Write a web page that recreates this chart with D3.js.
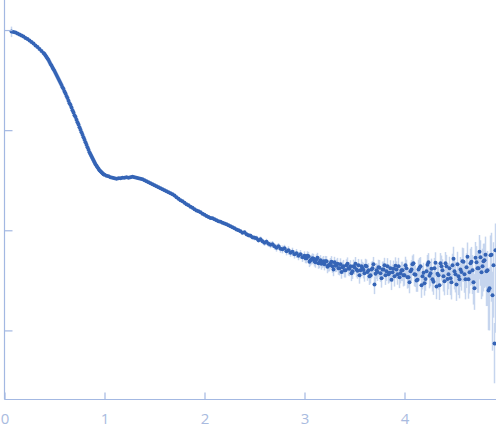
<!DOCTYPE html>
<html>
<head>
<meta charset="utf-8">
<script src="https://cdn.jsdelivr.net/npm/d3@7"></script>
<style>
  html, body { margin: 0; padding: 0; background: #fff; }
  svg { display: block; }
</style>
</head>
<body>
<svg id="chart" width="496" height="437"></svg>
<script>
// scattering vector q (x values)
const q = [
  0.07,0.09,0.11,0.13,0.15,0.17,0.19,0.21,0.23,0.25,0.27,0.29,0.31,0.33,0.35,0.37,0.39,
  0.40,0.41,0.42,0.43,0.44,0.45,0.46,0.47,0.48,0.49,
  0.50,0.51,0.52,0.53,0.54,0.55,0.56,0.57,0.58,0.59,
  0.60,0.61,0.62,0.63,0.64,0.65,0.66,0.67,0.68,0.69,
  0.70,0.71,0.72,0.73,0.74,0.75,0.76,0.77,0.78,0.79,
  0.80,0.81,0.82,0.83,0.84,0.85,0.86,0.87,0.88,0.89,
  0.90,0.91,0.92,0.93,0.94,0.95,0.96,0.97,0.98,0.99,
  1.00,
  1.02,1.04,1.06,1.08,1.10,1.12,1.14,1.16,1.18,1.20,
  1.22,1.24,1.26,1.28,1.30,1.32,1.34,1.36,1.38,1.40,
  1.42,1.44,1.46,1.48,1.50,1.52,1.54,1.56,1.58,1.60,
  1.62,1.64,1.66,1.68,1.70,1.72,1.74,1.76,1.78,1.80,
  1.82,1.84,1.86,1.88,1.90,1.92,1.94,1.96,1.98,2.00,
  2.02,2.04,2.06,2.08,2.10,2.12,2.14,2.16,2.18,2.20,
  2.22,2.24,2.26,2.28,2.30,2.32,2.34,2.36,2.38,2.40,
  2.42,2.44,2.46,2.48,2.50,2.52,2.54,2.56,2.58,2.60,
  2.62,2.64,2.66,2.68,2.70,2.72,2.74,2.76,2.78,2.80,
  2.82,2.84,2.86,2.88,2.90,2.92,2.94,2.96,2.98,3.00,
  3.02,3.04,3.06,3.08,3.10,3.12,3.14,3.16,3.18,3.20,
  3.22,3.24,3.26,3.28,3.30,3.32,3.34,3.36,3.38,3.40,
  3.42,3.44,3.46,3.48,3.50,3.52,3.54,3.56,3.58,3.60,
  3.62,3.64,3.66,3.68,3.70,3.72,3.74,3.76,3.78,3.80,
  3.82,3.84,3.86,3.88,3.90,3.92,3.94,3.96,3.98,4.00,
  4.02,4.04,4.06,4.08,4.10,4.12,4.14,4.16,4.18,4.20,
  4.22,4.24,4.26,4.28,4.30,4.32,4.34,4.36,4.38,4.40,
  4.42,4.44,4.46,4.48,4.50,4.52,4.54,4.56,4.58,4.60,
  4.62,4.64,4.66,4.68,4.70,4.72,4.74,4.76,4.78,4.80,
  4.82,4.84,4.86,4.88,4.90,4.91,
  // interleaved points of the noisy tail
  3.01,3.03,3.05,3.07,3.09,3.11,3.13,3.15,3.17,3.19,
  3.21,3.23,3.25,3.27,3.29,3.31,3.33,3.35,3.37,3.39,
  3.41,3.43,3.45,3.47,3.49,3.51,3.53,3.55,3.57,3.59,
  3.61,3.63,3.65,3.67,3.69,3.71,3.73,3.75,3.77,3.79,
  3.81,3.83,3.85,3.87,3.89,3.91,3.93,3.95,3.97,3.99,
  4.01,4.03,4.05,4.07,4.09,4.11,4.13,4.15,4.17,4.19,
  4.21,4.23,4.25,4.27,4.29,4.31,4.33,4.35,4.37,4.39,
  4.41,4.43,4.45,4.47,4.49,4.51,4.53,4.55,4.57,4.59,
  4.61,4.63,4.65,4.67,4.69,4.71,4.73,4.75,4.77,4.79,
  4.81,4.83,4.85,4.87,4.89
];

// intensity I(q), log scale
const intensity = [
  0.966,0.955,0.944,0.923,0.902,0.881,0.861,0.832,0.813,0.785,0.759,0.733,0.700,0.676,0.646,0.617,0.589,
  0.575,0.556,0.537,0.519,0.501,0.479,0.457,0.442,0.422,0.407,
  0.389,0.372,0.355,0.339,0.324,0.309,0.295,0.282,0.269,0.257,
  0.243,0.232,0.219,0.209,0.197,0.186,0.178,0.168,0.158,0.150,
  0.141,0.135,0.127,0.120,0.114,0.107,0.101,0.0955,0.0902,0.0851,
  0.0803,0.0759,0.0716,0.0676,0.0638,0.0603,0.0575,0.0550,0.0525,0.0501,
  0.0479,0.0457,0.0442,0.0427,0.0412,0.0398,0.0389,0.0380,0.0372,0.0363,
  0.0359,
  0.0351,0.0347,0.0339,0.0335,0.0331,0.0327,0.0331,0.0331,0.0335,0.0335,
  0.0339,0.0335,0.0339,0.0343,0.0339,0.0335,0.0331,0.0327,0.0324,0.0316,
  0.0309,0.0302,0.0295,0.0288,0.0282,0.0275,0.0269,0.0263,0.0257,0.0251,
  0.0245,0.0240,0.0234,0.0229,0.0222,0.0214,0.0207,0.0200,0.0195,0.0188,
  0.0182,0.0178,0.0172,0.0168,0.0162,0.0158,0.0155,0.0151,0.0146,0.0143,
  0.0139,0.0136,0.0133,0.0132,0.0129,0.0126,0.0123,0.0122,0.0119,0.0117,
  0.0115,0.0112,0.0110,0.0107,0.0105,0.0102,0.0100,0.00977,0.00944,0.00955,
  0.00912,0.00891,0.00881,0.00851,0.00841,0.00832,0.00794,0.00813,0.00776,0.00750,
  0.00767,0.00733,0.00716,0.00724,0.00692,0.00668,0.00692,0.00653,0.00646,0.00661,
  0.00617,0.00631,0.00596,0.00610,0.00575,0.00589,0.00556,0.00575,0.00537,0.00556,
  0.00525,0.00550,0.00501,0.00525,0.00490,0.00513,0.00468,0.00501,0.00479,0.00457,
  0.00490,0.00447,0.00468,0.00437,0.00479,0.00447,0.00417,0.00457,0.00427,0.00398,
  0.00447,0.00417,0.00437,0.00389,0.00427,0.00407,0.00447,0.00398,0.00417,0.00372,
  0.00437,0.00398,0.00355,0.00417,0.00288,0.00398,0.00427,0.00372,0.00407,0.00447,
  0.00389,0.00363,0.00417,0.00380,0.00347,0.00407,0.00437,0.00372,0.00398,0.00355,
  0.00417,0.00339,0.00389,0.00457,0.00363,0.00316,0.00407,0.00437,0.00347,0.00295,
  0.00389,0.00479,0.00372,0.00324,0.00417,0.00275,0.00355,0.00468,0.00398,0.00309,
  0.00437,0.00363,0.00331,0.00447,0.00389,0.00288,0.00347,0.00407,0.00490,0.00363,
  0.00427,0.00324,0.00468,0.00398,0.00263,0.00479,0.00417,0.00537,0.00437,0.00501,
  0.00389,0.00251,0.00562,0.00224,0.000741,0.00631,
  // interleaved points of the noisy tail
  0.00525,0.00556,0.00484,0.00513,0.00519,0.00479,0.00531,0.00479,0.00462,0.00490,
  0.00490,0.00432,0.00447,0.00484,0.00407,0.00442,0.00462,0.00417,0.00384,0.00437,
  0.00398,0.00462,0.00412,0.00372,0.00437,0.00462,0.00394,0.00355,0.00437,0.00402,
  0.00442,0.00384,0.00347,0.00407,0.00457,0.00368,0.00384,0.00422,0.00331,0.00407,
  0.00355,0.00437,0.00376,0.00320,0.00412,0.00442,0.00363,0.00339,0.00398,0.00355,
  0.00447,0.00339,0.00302,0.00407,0.00468,0.00359,0.00320,0.00422,0.00282,0.00376,
  0.00327,0.00452,0.00351,0.00412,0.00306,0.00473,0.00368,0.00282,0.00437,0.00347,
  0.00468,0.00327,0.00417,0.00302,0.00519,0.00363,0.00457,0.00324,0.00384,0.00484,
  0.00324,0.00543,0.00380,0.00484,0.00302,0.00531,0.00417,0.00610,0.00380,0.00490,
  0.00569,0.00398,0.00263,0.00569,0.00447
];

// relative uncertainty sigma/I for each point
const relErr = [
  0.12,0.008,0.008,0.008,0.008,0.008,0.008,0.008,0.008,0.008,0.008,0.008,0.008,0.008,0.008,0.008,0.008,
  0.008,0.008,0.008,0.008,0.008,0.008,0.008,0.008,0.008,0.008,
  0.008,0.008,0.008,0.008,0.008,0.008,0.008,0.008,0.008,0.008,
  0.008,0.008,0.008,0.008,0.008,0.008,0.008,0.008,0.008,0.008,
  0.008,0.008,0.008,0.008,0.008,0.008,0.008,0.008,0.008,0.008,
  0.008,0.008,0.008,0.008,0.008,0.008,0.008,0.008,0.008,0.008,
  0.008,0.008,0.008,0.008,0.008,0.008,0.008,0.008,0.008,0.008,
  0.008,
  0.010,0.010,0.010,0.010,0.010,0.010,0.010,0.010,0.010,0.010,
  0.010,0.010,0.010,0.010,0.010,0.010,0.010,0.010,0.010,0.010,
  0.012,0.012,0.012,0.012,0.012,0.012,0.012,0.012,0.012,0.012,
  0.014,0.014,0.014,0.014,0.014,0.014,0.014,0.014,0.014,0.014,
  0.016,0.016,0.016,0.016,0.016,0.016,0.016,0.016,0.016,0.016,
  0.020,0.020,0.020,0.021,0.020,0.022,0.021,0.022,0.023,0.022,
  0.026,0.028,0.027,0.031,0.030,0.034,0.033,0.037,0.036,0.040,
  0.050,0.048,0.055,0.052,0.058,0.062,0.057,0.066,0.063,0.068,
  0.072,0.068,0.076,0.080,0.074,0.083,0.079,0.086,0.090,0.084,
  0.090,0.096,0.088,0.098,0.093,0.102,0.097,0.106,0.100,0.108,
  0.110,0.105,0.115,0.120,0.112,0.122,0.117,0.126,0.120,0.130,
  0.128,0.135,0.130,0.140,0.134,0.142,0.138,0.148,0.140,0.150,
  0.148,0.155,0.150,0.160,0.154,0.165,0.158,0.170,0.162,0.175,
  0.168,0.180,0.172,0.185,0.200,0.180,0.190,0.178,0.195,0.188,
  0.200,0.192,0.205,0.198,0.210,0.202,0.215,0.208,0.220,0.212,
  0.220,0.215,0.230,0.225,0.240,0.230,0.250,0.235,0.260,0.245,
  0.250,0.235,0.260,0.245,0.270,0.255,0.280,0.265,0.290,0.275,
  0.300,0.290,0.320,0.305,0.340,0.315,0.350,0.330,0.370,0.345,
  0.380,0.360,0.400,0.420,0.390,0.450,0.430,0.480,0.500,0.470,
  0.550,0.600,0.580,0.720,0.600,0.850,
  // interleaved points of the noisy tail
  0.105,0.110,0.114,0.112,0.120,0.117,0.122,0.127,0.125,0.130,
  0.132,0.138,0.130,0.140,0.145,0.138,0.148,0.150,0.145,0.158,
  0.152,0.160,0.156,0.165,0.162,0.170,0.166,0.175,0.172,0.178,
  0.175,0.184,0.180,0.190,0.186,0.192,0.188,0.196,0.192,0.200,
  0.198,0.206,0.202,0.210,0.208,0.215,0.212,0.220,0.218,0.225,
  0.218,0.228,0.222,0.235,0.230,0.245,0.240,0.255,0.250,0.260,
  0.240,0.255,0.250,0.265,0.260,0.275,0.270,0.285,0.280,0.295,
  0.295,0.310,0.305,0.325,0.320,0.340,0.335,0.355,0.350,0.370,
  0.370,0.390,0.385,0.410,0.400,0.440,0.430,0.470,0.460,0.500,
  0.520,0.560,0.620,0.660,0.700
];

const xTicks = [0, 1, 2, 3, 4];
const yTicks = [1, 0.1, 0.01, 0.001];

const data = q.map((d, i) => ({ q: d, I: intensity[i], e: intensity[i] * relErr[i] }));

const svg = d3.select("#chart");
const width = +svg.attr("width");
const axisColor = "#a3b8e2";

const x = d3.scaleLinear()
    .domain([0, 4.915])
    .range([4.5, width]);

const yMin = Math.pow(10, -3.69);
const y = d3.scaleLog()
    .domain([Math.pow(10, 0.3), yMin])
    .range([0, 399.5]);

// error bars
svg.append("g")
    .selectAll("line")
    .data(data)
    .enter()
    .append("line")
    .attr("x1", d => x(d.q))
    .attr("x2", d => x(d.q))
    .attr("y1", d => y(d.I + d.e))
    .attr("y2", d => y(Math.max(d.I - d.e, yMin)))
    .attr("stroke", "#c6d5ee")
    .attr("stroke-width", 1.5);

// points
svg.append("g")
    .selectAll("circle")
    .data(data)
    .enter()
    .append("circle")
    .attr("cx", d => x(d.q))
    .attr("cy", d => y(d.I))
    .attr("r", 2)
    .attr("fill", "#3564b6");

// axes
const gx = svg.append("g")
    .attr("transform", "translate(0,399.5)")
    .call(d3.axisBottom(x).tickValues(xTicks).tickFormat(d3.format("d"))
        .tickSizeInner(-7).tickSizeOuter(0).tickPadding(14));

const gy = svg.append("g")
    .attr("transform", "translate(4.5,0)")
    .call(d3.axisLeft(y).tickValues(yTicks).tickFormat("")
        .tickSizeInner(-8).tickSizeOuter(0));

[gx, gy].forEach(g => {
    g.select(".domain").attr("stroke", axisColor).attr("stroke-width", 1.2);
    g.selectAll(".tick line").attr("stroke", axisColor).attr("stroke-width", 1.2);
});
gy.select(".domain").attr("d", "M0,0V399.5");
gx.select(".domain").attr("d", "M4.5,0H" + width);

gx.selectAll(".tick text")
    .attr("fill", "#a9bbe0")
    .attr("font-family", "'Open Sans', sans-serif")
    .attr("font-size", 15);
</script>
</body>
</html>
